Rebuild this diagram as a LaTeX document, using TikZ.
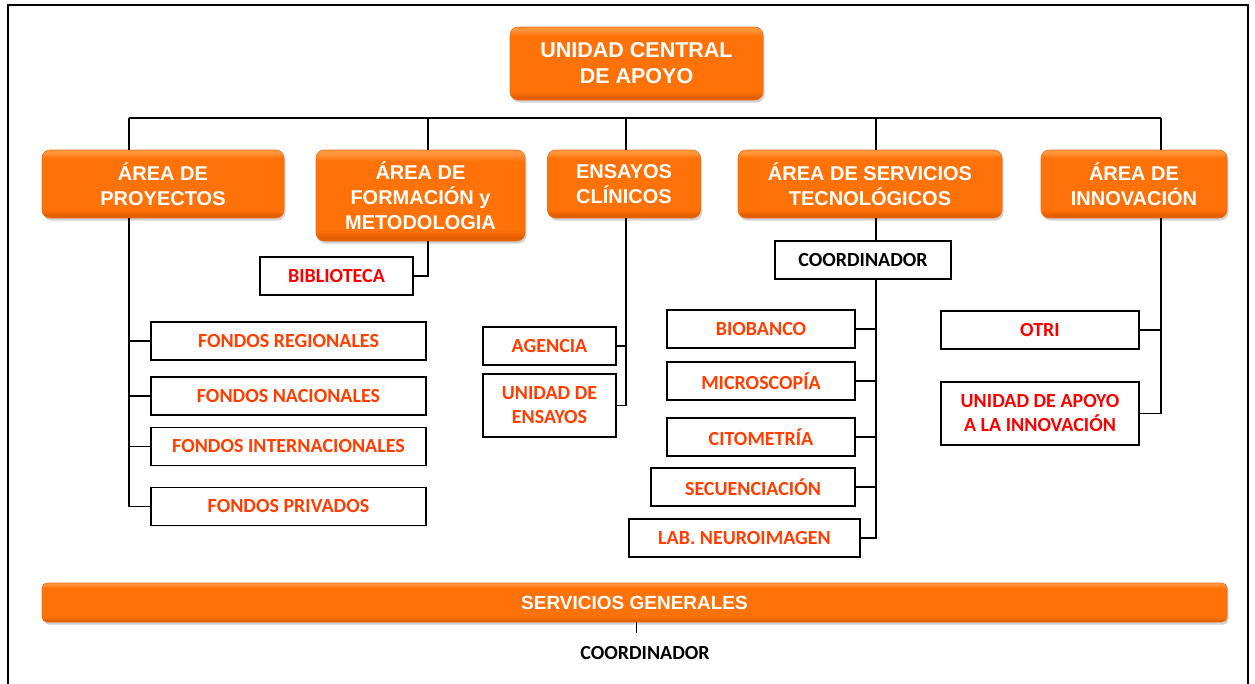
\documentclass[tikz,border=0pt]{standalone}
\usepackage{fontspec}
\setmainfont{Liberation Sans}
\newfontfamily\calfont{Carlito}
\usetikzlibrary{shadows}
\definecolor{orglight}{RGB}{255,150,60}
\definecolor{orgmain}{RGB}{255,114,8}
\definecolor{orgbot}{RGB}{226,94,0}
\definecolor{orgedge}{RGB}{236,112,30}
\definecolor{redorg}{RGB}{255,62,0}
\definecolor{pured}{RGB}{250,0,0}
\pgfdeclareverticalshading{orgshade}{100bp}{color(0bp)=(orgbot); color(27bp)=(orgbot); color(31bp)=(orgmain); color(69bp)=(orgmain); color(73bp)=(orglight); color(100bp)=(orglight)}
\begin{document}
\begin{tikzpicture}[x=1pt,y=-1pt,
    orgbox/.style={rounded corners=8pt, shading=orgshade, draw=orgedge, line width=0.6pt,
        text=white, align=center, inner sep=0pt,
        font=\bfseries\fontsize{20}{25}\selectfont,
        drop shadow={shadow xshift=1.5pt, shadow yshift=-2.5pt, opacity=0.35}},
    wbox/.style={draw, line width=1.4pt, fill=white, align=center, inner sep=0pt, text=redorg,
        font=\calfont\bfseries\fontsize{20}{24}\selectfont,
        drop shadow={shadow xshift=1pt, shadow yshift=-1pt, opacity=0.2}},
    redbox/.style={wbox, text=pured},
    link/.style={line width=1.4pt}]
\useasboundingbox (0,0) rectangle (1255,683);
\draw[line width=2pt] (8,690) -- (8,5) -- (1248,5) -- (1248,690);

\node[orgbox, minimum width=253pt, minimum height=73pt, font=\bfseries\fontsize{21.5}{26}\selectfont]
    (central) at (636.5,63.5) {UNIDAD CENTRAL\\DE APOYO};
\node[orgbox, minimum width=242pt, minimum height=68pt] (proy) at (163,184) {ÁREA DE\\PROYECTOS};
\node[orgbox, minimum width=209pt, minimum height=91pt] (form) at (420.5,195.5) {ÁREA DE\\FORMACIÓN y\\METODOLOGIA};
\node[orgbox, minimum width=153pt, minimum height=68pt] (ensayos) at (624,184) {ENSAYOS\\CLÍNICOS};
\node[orgbox, minimum width=264pt, minimum height=68pt] (serv) at (870,184) {ÁREA DE SERVICIOS\\TECNOLÓGICOS};
\node[orgbox, minimum width=186pt, minimum height=68pt] (innov) at (1134,184) {ÁREA DE\\INNOVACIÓN};

\coordinate (bproy) at (129,118);
\coordinate (bform) at (428,118);
\coordinate (bens) at (626,118);
\coordinate (bserv) at (876,118);
\coordinate (binnov) at (1161,118);

\node[redbox, minimum width=153pt, minimum height=38pt] (biblio) at (336.5,276) {BIBLIOTECA};
\node[wbox, minimum width=275pt, minimum height=38pt] (fregion) at (288.5,341) {FONDOS REGIONALES};
\node[wbox, minimum width=275pt, minimum height=38pt] (fnacion) at (288.5,396) {FONDOS NACIONALES};
\node[wbox, minimum width=275pt, minimum height=38pt] (finter) at (288.5,446.5) {FONDOS INTERNACIONALES};
\node[wbox, minimum width=275pt, minimum height=38pt] (fpriv) at (288.5,506.5) {FONDOS PRIVADOS};

\node[wbox, minimum width=133pt, minimum height=38pt] (agencia) at (549.5,346) {AGENCIA};
\node[wbox, minimum width=133pt, minimum height=63pt] (uensayo) at (549.5,405.5) {UNIDAD DE\\ENSAYOS};

\node[wbox, text=black, minimum width=176pt, minimum height=38pt] (coord) at (863,260) {COORDINADOR};
\node[wbox, minimum width=188pt, minimum height=38pt] (biobanco) at (761,329) {BIOBANCO};
\node[wbox, minimum width=188pt, minimum height=38pt] (micro) at (761,381) {MICROSCOPÍA};
\node[wbox, minimum width=188pt, minimum height=38pt] (cito) at (761,437) {CITOMETRÍA};
\node[wbox, minimum width=204pt, minimum height=38pt] (secuen) at (753,487) {SECUENCIACIÓN};
\node[wbox, minimum width=231pt, minimum height=38pt] (neuro) at (744.5,538) {LAB. NEUROIMAGEN};

\node[redbox, minimum width=198pt, minimum height=38pt] (otri) at (1040,330) {OTRI};
\node[redbox, minimum width=198pt, minimum height=63pt] (uapoyo) at (1040,413.5) {UNIDAD DE APOYO\\A LA INNOVACIÓN};

\node[orgbox, rounded corners=5pt, minimum width=1185pt, minimum height=39pt, font=\bfseries\fontsize{19}{23}\selectfont]
    (sgen) at (634.5,602.5) {SERVICIOS GENERALES};
\node[font=\calfont\bfseries\fontsize{20}{24}\selectfont, inner sep=0pt] (sgcoord) at (645,653) {COORDINADOR};
\coordinate (sgend) at (636,633);

% bus
\draw[link] (bproy) -- (binnov);
\foreach \b/\n in {bproy/proy, bform/form, bens/ensayos, bserv/serv, binnov/innov}
    \draw[link] (\b) -- (\b |- \n.north);

% proyectos
\draw[link] (bproy |- proy.south) -- (bproy |- fpriv.west) -- (fpriv.west);
\foreach \n in {fregion, fnacion, finter}
    \draw[link] (bproy |- \n.west) -- (\n.west);

% formacion
\draw[link] (bform |- form.south) |- (biblio.east);

% ensayos
\draw[link] (bens |- ensayos.south) |- (uensayo.east);
\draw[link] (bens |- agencia.east) -- (agencia.east);

% servicios
\draw[link] (bserv |- serv.south) -- (bserv |- coord.north);
\draw[link] (bserv |- coord.south) |- (neuro.east);
\foreach \n in {biobanco, micro, cito, secuen}
    \draw[link] (bserv |- \n.east) -- (\n.east);

% innovacion
\draw[link] (binnov |- innov.south) |- (uapoyo.east);
\draw[link] (binnov |- otri.east) -- (otri.east);

% servicios generales
\draw[line width=1pt] (sgend |- sgen.south) -- (sgend);
\end{tikzpicture}
\end{document}
